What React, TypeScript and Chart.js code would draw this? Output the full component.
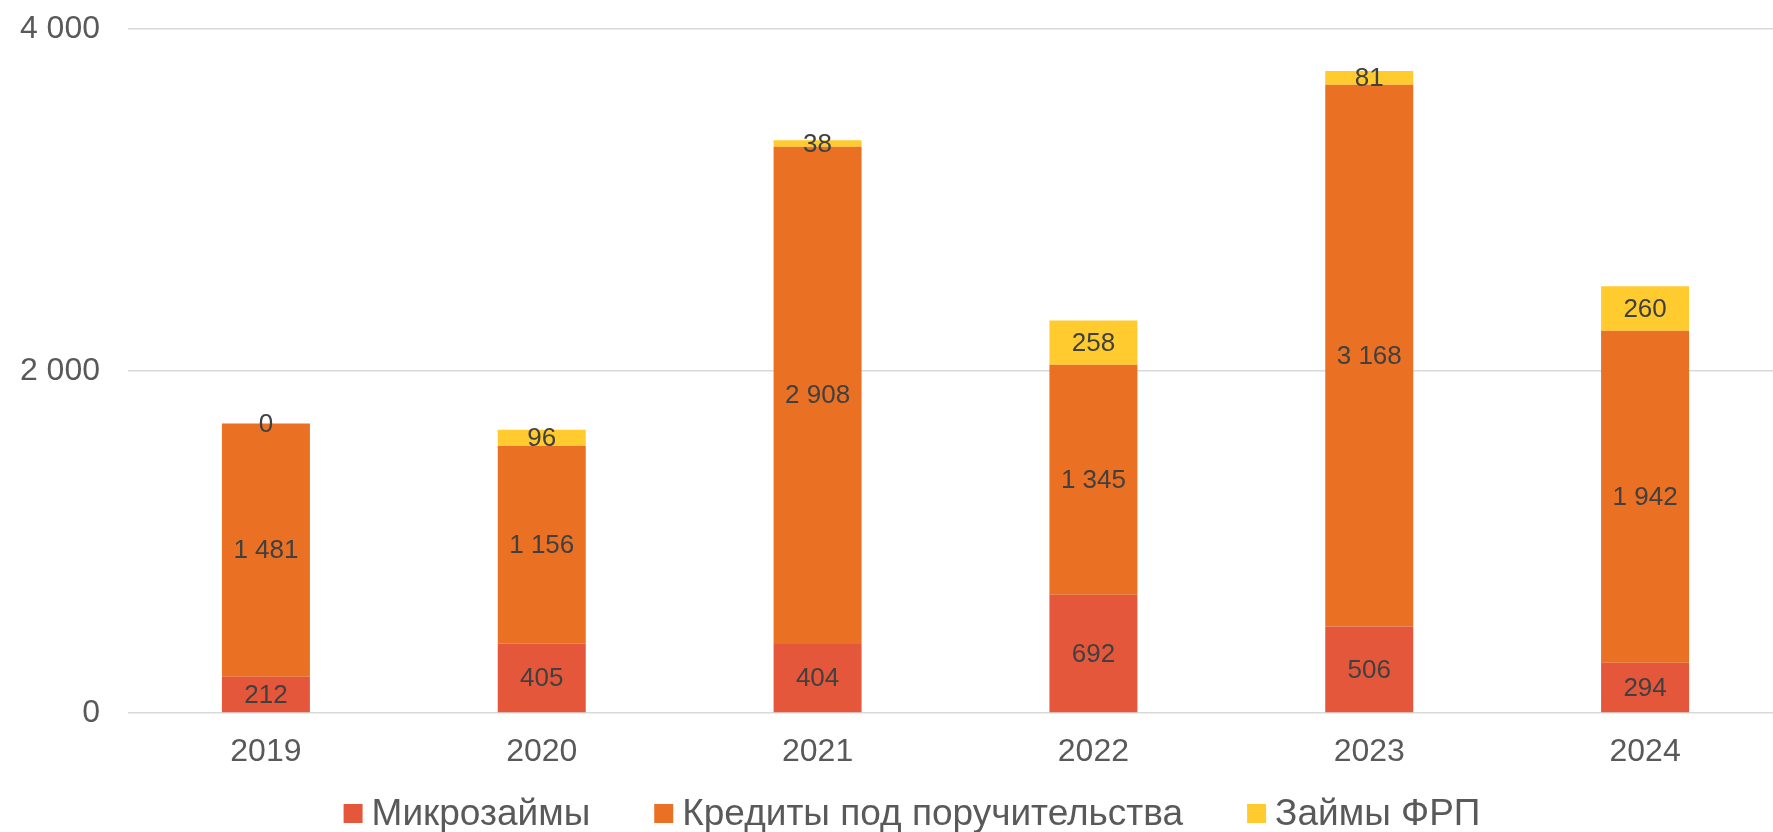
import React, { useEffect, useRef } from "react";
import { Chart, registerables } from "chart.js";

Chart.register(...registerables);

const categories = ["2019", "2020", "2021", "2022", "2023", "2024"];
const microLoans = [212, 405, 404, 692, 506, 294];
const guaranteeCredits = [1481, 1156, 2908, 1345, 3168, 1942];
const frpLoans = [0, 96, 38, 258, 81, 260];
const seriesNames = ["Микрозаймы", "Кредиты под поручительства", "Займы ФРП"];
const seriesColors = ["#E5573B", "#EA7024", "#FFCB2F"];
const yTicks = [0, 2000, 4000];

const fmt = (n: number) => String(n).replace(/\B(?=(\d{3})+(?!\d))/g, " ");

const FONT = "'Liberation Sans', Arial, sans-serif";

const dataLabelPlugin = {
  id: "dataLabels",
  afterDatasetsDraw(chart: any) {
    const ctx = chart.ctx;
    ctx.save();
    ctx.font = `26px ${FONT}`;
    ctx.fillStyle = "#404040";
    ctx.textAlign = "center";
    ctx.textBaseline = "middle";
    chart.data.datasets.forEach((ds: any, di: number) => {
      const meta = chart.getDatasetMeta(di);
      meta.data.forEach((el: any, i: number) => {
        const v = ds.data[i];
        const cy = (el.y + el.base) / 2;
        ctx.fillText(fmt(v), el.x, cy + 1);
      });
    });
    ctx.restore();
  },
};

const legendPlugin = {
  id: "customLegend",
  afterDraw(chart: any) {
    const ctx = chart.ctx;
    const box = 19;
    const gapBoxText = 9;
    const itemGap = 64;
    const cy = 813.5;
    const centerX = 912;
    ctx.save();
    ctx.font = `37px ${FONT}`;
    ctx.textBaseline = "middle";
    ctx.textAlign = "left";
    const items = chart.data.datasets.map((ds: any) => ({
      label: ds.label,
      color: ds.backgroundColor,
      w: ctx.measureText(ds.label).width,
    }));
    let total = 0;
    items.forEach((it: any, i: number) => {
      total += box + gapBoxText + it.w + (i < items.length - 1 ? itemGap : 0);
    });
    let x = centerX - total / 2;
    items.forEach((it: any) => {
      ctx.fillStyle = it.color;
      ctx.fillRect(x, cy - box / 2, box, box);
      x += box + gapBoxText;
      ctx.fillStyle = "#595959";
      ctx.fillText(it.label, x, cy + 1);
      x += it.w + itemGap;
    });
    ctx.restore();
  },
};

export default function App() {
  const ref = useRef<HTMLCanvasElement>(null);
  useEffect(() => {
    if (!ref.current) return;
    const chart = new Chart(ref.current, {
      type: "bar",
      data: {
        labels: categories,
        datasets: [
          { label: seriesNames[0], data: microLoans, backgroundColor: seriesColors[0] },
          { label: seriesNames[1], data: guaranteeCredits, backgroundColor: seriesColors[1] },
          { label: seriesNames[2], data: frpLoans, backgroundColor: seriesColors[2] },
        ],
      },
      options: {
        animation: false,
        responsive: true,
        maintainAspectRatio: false,
        datasets: { bar: { categoryPercentage: 1, barPercentage: 0.319, borderWidth: 0 } },
        layout: { padding: { left: 20, right: 0, top: 29, bottom: 63 } },
        plugins: { legend: { display: false }, tooltip: { enabled: false } },
        scales: {
          x: {
            stacked: true,
            grid: { display: false },
            border: { display: false },
            afterFit: (scale: any) => {
              scale.height = 56;
              scale.paddingLeft = 0;
              scale.paddingRight = 0;
            },
            ticks: { color: "#595959", font: { family: FONT, size: 32 }, padding: 12 },
          },
          y: {
            stacked: true,
            min: 0,
            max: 4000,
            afterBuildTicks: (axis: any) => {
              axis.ticks = yTicks.map((v) => ({ value: v }));
            },
            afterFit: (scale: any) => {
              scale.width = 108;
              scale.paddingTop = 0;
              scale.paddingBottom = 0;
            },
            grid: { color: "#D9D9D9", lineWidth: 1.5, drawTicks: false },
            border: { display: false },
            ticks: {
              color: "#595959",
              font: { family: FONT, size: 32 },
              padding: 28,
              callback: (v: any) => fmt(Number(v)),
            },
          },
        },
      },
      plugins: [dataLabelPlugin, legendPlugin],
    });
    return () => chart.destroy();
  }, []);
  return (
    <div style={{ position: "fixed", left: 0, top: 0, width: 1773, height: 832, overflow: "hidden", background: "#fff" }}>
      <div style={{ position: "relative", width: 1783, height: 832 }}>
        <canvas ref={ref} />
      </div>
    </div>
  );
}
